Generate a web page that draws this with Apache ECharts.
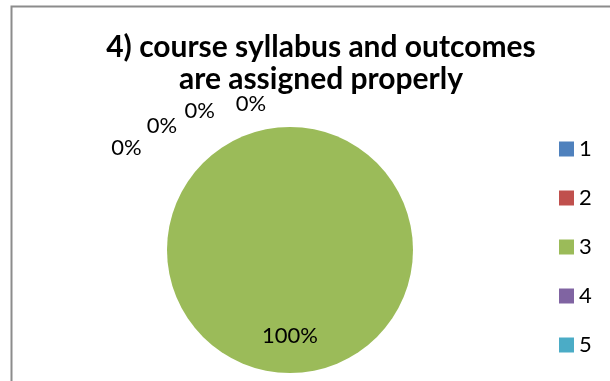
<!DOCTYPE html>
<html>
<head>
<meta charset="utf-8">
<script src="https://cdn.jsdelivr.net/npm/echarts@6/dist/echarts.min.js"></script>
<style>
html,body{margin:0;padding:0;background:#fff;}
#c{width:610px;height:381px;}
</style>
</head>
<body>
<div id="c"></div>
<script>
const titleText = "4) course syllabus and outcomes\nare assigned properly";
const categories = ["1", "2", "3", "4", "5"];
const values = [0, 0, 100, 0, 0];
const colors = ["#4F81BD", "#C0504D", "#9BBB59", "#8064A2", "#4BACC6"];

const chart = echarts.init(document.getElementById('c'));
const FONT = "Lato";
const cx = 290, cy = 250, R = 123;
// outside label angles (deg from 12 o'clock, counter-clockwise) and distances for the zero slices
const zeroLabelSpots = [[58, 193], [46, 178], [33, 166], [15, 151]];
chart.setOption({
  animation: false,
  graphic: [{
    type: 'polyline',
    shape: { points: [[11.5, 381], [11.5, 6.5], [610, 6.5]] },
    style: { stroke: '#8c8c8c', lineWidth: 2, fill: null },
    silent: true
  }],
  title: {
    text: titleText,
    left: 316, top: 26, textAlign: 'center',
    textStyle: { fontFamily: FONT, fontWeight: 'bold', fontSize: 30, lineHeight: 32, color: '#000' }
  },
  legend: {
    orient: 'vertical',
    left: 554, top: 133, height: 244,
    itemWidth: 15, itemHeight: 15, itemGap: 27,
    icon: 'rect',
    textStyle: { fontFamily: FONT, fontSize: 22, lineHeight: 21, color: '#000', padding: [0, 0, 0, 0] },
    data: categories
  },
  series: [{
    type: 'pie',
    center: [cx, cy],
    radius: R,
    startAngle: 90,
    clockwise: true,
    avoidLabelOverlap: false,
    minShowLabelAngle: 0,
    data: categories.map((c, i) => ({ name: c, value: values[i], itemStyle: { color: colors[i] } })),
    label: {
      show: true,
      formatter: p => Math.round(p.percent) + '%',
      fontFamily: FONT, fontSize: 22, color: '#000',
      position: 'inside'
    },
    labelLine: { show: false },
    labelLayout: function (p) {
      const i = p.dataIndex;
      if (values[i] > 0) {
        return { x: cx, y: cy + R * 0.7, align: 'center', verticalAlign: 'middle' };
      }
      const order = [0, 1, 3, 4].indexOf(i);
      const spot = zeroLabelSpots[order];
      const a = spot[0] * Math.PI / 180;
      return { x: cx - spot[1] * Math.sin(a), y: cy - spot[1] * Math.cos(a), align: 'center', verticalAlign: 'middle' };
    }
  }]
});
</script>
</body>
</html>
